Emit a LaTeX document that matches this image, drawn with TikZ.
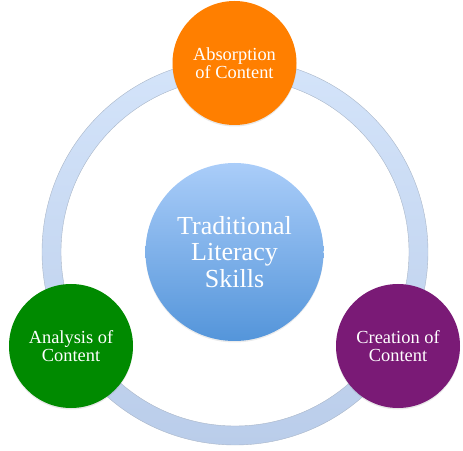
\documentclass[tikz,border=0pt]{standalone}
\usepackage{fontspec}
\setmainfont{Liberation Serif}
\usetikzlibrary{shadows}
\definecolor{ringtop}{HTML}{D4E4FA}
\definecolor{ringbot}{HTML}{BACDEA}
\definecolor{ringedge}{HTML}{A9B6C8}
\definecolor{ctop}{HTML}{AACDF9}
\definecolor{cbot}{HTML}{5495DA}
\definecolor{corange}{HTML}{FF7F00}
\definecolor{cgreen}{HTML}{008A00}
\definecolor{cpurple}{HTML}{7A1A76}
\tikzset{
  outer/.style={circle, minimum size=124pt, inner sep=0pt, text=white, align=center,
    font=\fontsize{18.4}{18.5}\selectfont,
    drop shadow={opacity=0.18, shadow xshift=0pt, shadow yshift=-1.5pt}},
  hub/.style={circle, minimum size=178pt, inner sep=0pt, text=white, align=center,
    top color=ctop, bottom color=cbot,
    font=\fontsize{26}{26.7}\selectfont,
    drop shadow={opacity=0.15, shadow xshift=0pt, shadow yshift=-1.5pt}}
}
\begin{document}
\begin{tikzpicture}[x=1pt,y=1pt]
\useasboundingbox (0,0) rectangle (463,450);
\coordinate (c) at (235,198);
\shade[top color=ringtop, bottom color=ringbot, even odd rule] (c) circle (193) (c) circle (174);
\draw[ringedge, line width=0.4pt] (c) circle (193);
\draw[ringedge, line width=0.4pt] (c) circle (174);
\node[hub] (hub) at (234.5,198) {Traditional\\Literacy\\Skills};
\node[outer, fill=corange] (abs) at (234.5,387) {Absorption\\of Content};
\node[outer, fill=cgreen] (ana) at (71,104) {Analysis of\\Content};
\node[outer, fill=cpurple] (cre) at (398,104) {Creation of\\Content};
\end{tikzpicture}
\end{document}
